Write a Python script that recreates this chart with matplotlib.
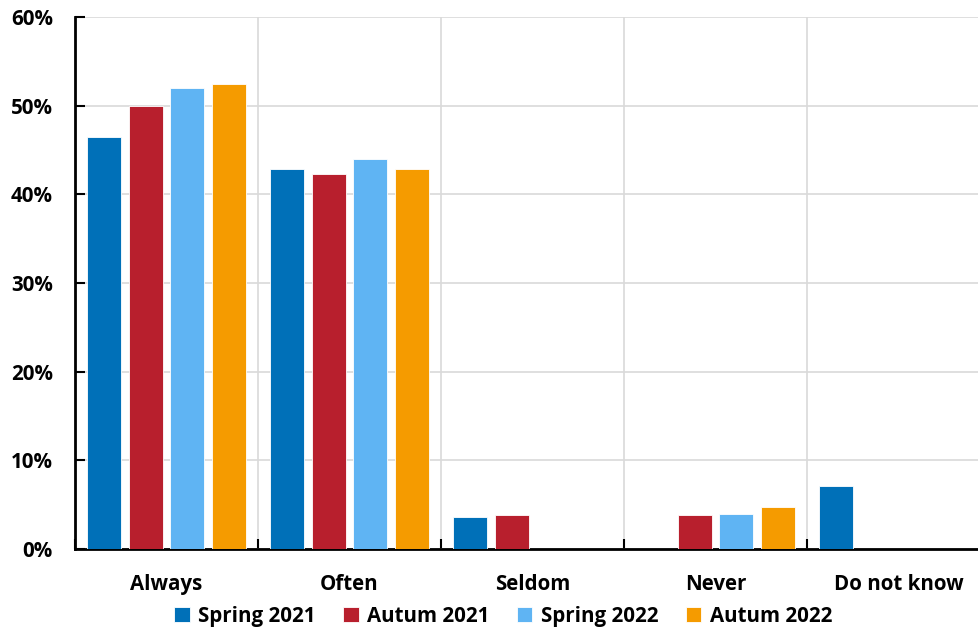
import matplotlib.pyplot as plt
import matplotlib.ticker as ticker
import numpy as np

categories = ["Always", "Often", "Seldom", "Never", "Do not know"]
series_names = ["Spring 2021", "Autum 2021", "Spring 2022", "Autum 2022"]
spring_2021 = [46.5, 42.9, 3.6, 0.0, 7.1]
autum_2021 = [50.0, 42.3, 3.8, 3.8, 0.0]
spring_2022 = [52.0, 44.0, 0.0, 4.0, 0.0]
autum_2022 = [52.4, 42.9, 0.0, 4.7, 0.0]
colors = ["#0070B8", "#B81F2D", "#5FB4F3", "#F59B00"]

plt.rcParams['font.family'] = ['Open Sans', 'DejaVu Sans']
plt.rcParams['font.weight'] = 'bold'
FS = 14.8

fig = plt.figure(figsize=(9.79, 6.30), dpi=100)
ax = fig.add_axes([75 / 979, 81 / 630, 915 / 979, 532 / 630])

x = np.arange(len(categories))
width = 0.186
step = 0.228
all_series = [spring_2021, autum_2021, spring_2022, autum_2022]
for i, (vals, name, c) in enumerate(zip(all_series, series_names, colors)):
    ax.bar(x + (i - 1.5) * step, vals, width, color=c, label=name,
           edgecolor="white", linewidth=0.6, zorder=3)

ax.set_xlim(-0.5, len(categories) - 0.5)
ax.set_ylim(0, 60)
ax.yaxis.set_major_locator(ticker.MultipleLocator(10))
ax.yaxis.set_major_formatter(ticker.FuncFormatter(lambda v, p: f"{v:.0f}%"))

ax.set_xticks(x)
ax.set_xticklabels(categories, fontweight='bold')
ax.set_xticks(np.arange(-0.5, len(categories), 1), minor=True)
ax.tick_params(axis='x', which='major', length=0, pad=18, labelsize=FS)
ax.tick_params(axis='x', which='minor', direction='in', length=7, width=1.5)
ax.tick_params(axis='y', direction='in', length=7, width=1.5, labelsize=FS, pad=16)
for lab in ax.get_yticklabels():
    lab.set_fontweight('bold')

ax.grid(axis='y', color="#D9D9D9", linewidth=1.2, zorder=0)
ax.grid(axis='x', which='minor', color="#D9D9D9", linewidth=1.2, zorder=0)
ax.set_axisbelow(True)

for s in ["top", "right"]:
    ax.spines[s].set_visible(False)
ax.spines["left"].set_linewidth(2)
ax.spines["bottom"].set_linewidth(2)

fig.legend(loc="center", bbox_to_anchor=(0.514, 0.022), ncol=4, frameon=False,
           handlelength=0.75, handleheight=0.75, handletextpad=0.4,
           columnspacing=1.35, prop={'family': 'Open Sans', 'size': FS, 'weight': 'bold'})

fig.savefig("out.png", dpi=100)
